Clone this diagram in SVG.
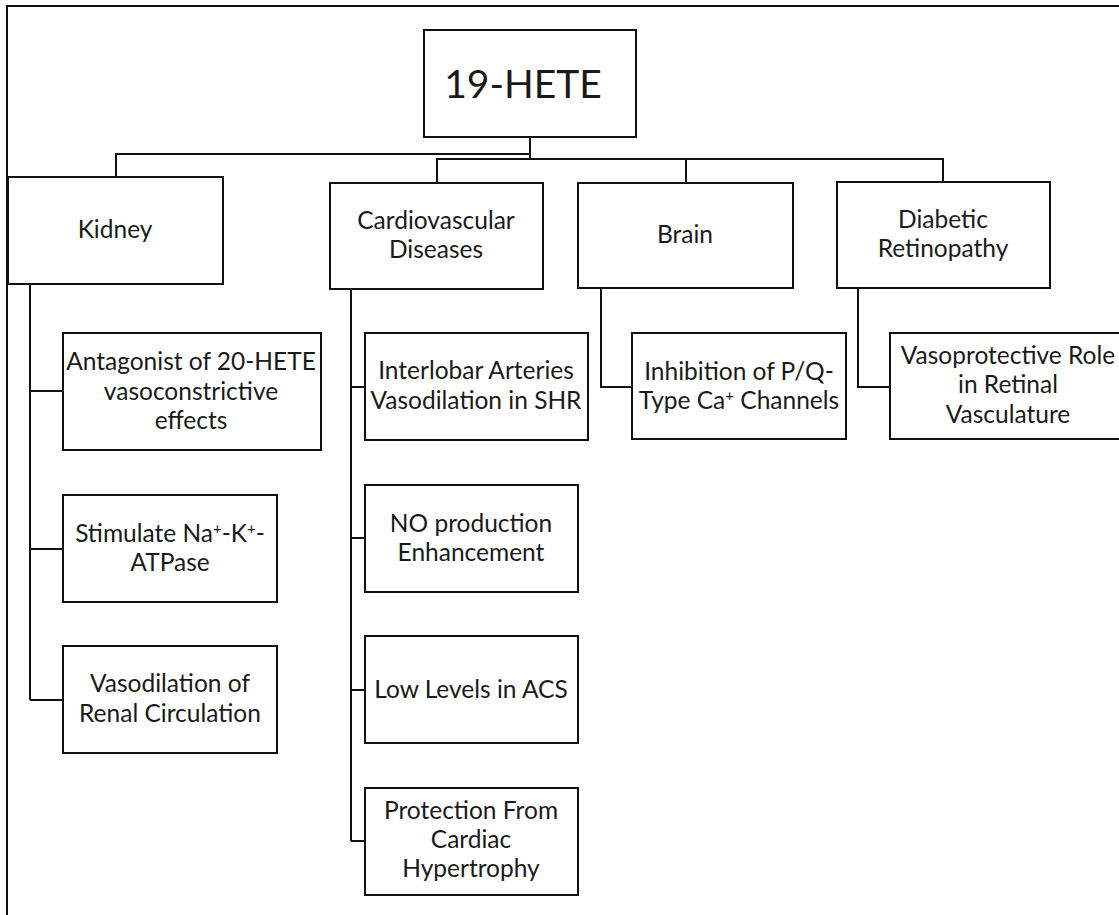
<svg xmlns="http://www.w3.org/2000/svg" width="1119" height="915" viewBox="0 0 1119 915">
<style>
.box{fill:#fff;stroke:#111;stroke-width:2}
.t{font-family:Lato,"Open Sans","Liberation Sans",sans-serif;font-size:24.5px;fill:#1a1a1a;text-anchor:middle}
.big{font-size:39px}
.c{fill:none;stroke:#111;stroke-width:2}
.sup{font-size:15px}
</style>
<rect x="0" y="0" width="1119" height="915" fill="#fff"/>
<rect x="7" y="6" width="1130" height="930" fill="none" stroke="#111" stroke-width="2"/>
<g id="connectors">
<path class="c" d="M530 137 V159 M530 154 H116 V177 M437 183 V159 H943 V183 M686 159 V183"/>
<path class="c" d="M30 284 V700 M30 391 H63 M30 549 H63 M30 700 H63"/>
<path class="c" d="M351 289 V841 M351 387 H365 M351 538 H365 M351 690 H365 M351 841 H365"/>
<path class="c" d="M601 288 V387 H632"/>
<path class="c" d="M858 288 V387 H890"/>
</g>
<g id="root"><rect class="box" x="424" y="30" width="212" height="107"/><text class="t big" x="523" y="98">19-HETE</text></g>
<g id="kidney"><rect class="box" x="8" y="177" width="215" height="107"/><text class="t" x="115" y="238">Kidney</text></g>
<g id="cardio"><rect class="box" x="330" y="183" width="213" height="106"/><text class="t" x="436" y="229">Cardiovascular</text><text class="t" x="436" y="258">Diseases</text></g>
<g id="brain"><rect class="box" x="578" y="183" width="215" height="105"/><text class="t" x="685" y="243">Brain</text></g>
<g id="diabetic"><rect class="box" x="837" y="182" width="213" height="106"/><text class="t" x="943" y="228">Diabetic</text><text class="t" x="943" y="257">Retinopathy</text></g>
<g id="antagonist"><rect class="box" x="63" y="333" width="258" height="117"/><text class="t" x="191" y="370">Antagonist of 20-HETE</text><text class="t" x="191" y="400">vasoconstrictive</text><text class="t" x="191" y="429">effects</text></g>
<g id="stimulate"><rect class="box" x="63" y="495" width="214" height="107"/><text class="t" x="170" y="542">Stimulate Na<tspan class="sup" dy="-8">+</tspan><tspan dy="8">-K</tspan><tspan class="sup" dy="-8">+</tspan><tspan dy="8">-</tspan></text><text class="t" x="170" y="571">ATPase</text></g>
<g id="renal"><rect class="box" x="63" y="646" width="214" height="107"/><text class="t" x="170" y="692">Vasodilation of</text><text class="t" x="170" y="722">Renal Circulation</text></g>
<g id="interlobar"><rect class="box" x="365" y="333" width="223" height="107"/><text class="t" x="476" y="379">Interlobar Arteries</text><text class="t" x="476" y="409">Vasodilation in SHR</text></g>
<g id="no"><rect class="box" x="365" y="485" width="213" height="107"/><text class="t" x="471" y="532">NO production</text><text class="t" x="471" y="561">Enhancement</text></g>
<g id="acs"><rect class="box" x="365" y="636" width="213" height="107"/><text class="t" x="471" y="698">Low Levels in ACS</text></g>
<g id="protection"><rect class="box" x="365" y="788" width="213" height="107"/><text class="t" x="471" y="819">Protection From</text><text class="t" x="471" y="848">Cardiac</text><text class="t" x="471" y="877">Hypertrophy</text></g>
<g id="inhibition"><rect class="box" x="632" y="333" width="214" height="106"/><text class="t" x="739" y="380">Inhibition of P/Q-</text><text class="t" x="739" y="409">Type Ca<tspan class="sup" dy="-8">+</tspan><tspan dy="8"> Channels</tspan></text></g>
<g id="vasoprotective"><rect class="box" x="890" y="333" width="236" height="106"/><text class="t" x="1008" y="364">Vasoprotective Role</text><text class="t" x="1008" y="393">in Retinal</text><text class="t" x="1008" y="423">Vasculature</text></g>
</svg>
